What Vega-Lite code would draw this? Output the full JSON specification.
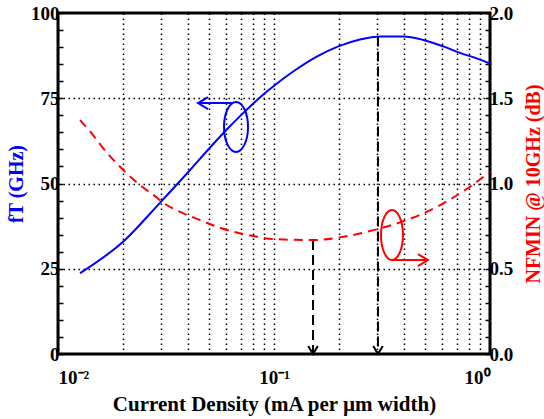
{
  "$schema": "https://vega.github.io/schema/vega-lite/v6.json",
  "width": 432,
  "height": 341,
  "autosize": {"type": "none"},
  "padding": {"left": 58, "top": 13, "right": 54, "bottom": 65},
  "config": {
    "view": {"stroke": "black", "strokeWidth": 3},
    "font": "Liberation Serif",
    "axis": {"labelFont": "Liberation Serif", "titleFont": "Liberation Serif", "labelFontWeight": "bold", "titleFontWeight": "bold", "labelColor": "black", "domain": false}
  },
  "datasets": {
    "ft": [
      {"j": 0.01265, "v": 23.7}, {"j": 0.02, "v": 32.9}, {"j": 0.03, "v": 44.7}, {"j": 0.04, "v": 53.3},
      {"j": 0.05, "v": 60.2}, {"j": 0.06, "v": 65.6}, {"j": 0.07, "v": 69.9}, {"j": 0.08, "v": 73.4},
      {"j": 0.09, "v": 76.3}, {"j": 0.1011, "v": 78.9}, {"j": 0.1251, "v": 83.2}, {"j": 0.1577, "v": 87.2},
      {"j": 0.1985, "v": 90.2}, {"j": 0.25, "v": 92.2}, {"j": 0.3095, "v": 93.1}, {"j": 0.3969, "v": 93.1},
      {"j": 0.4912, "v": 92.1}, {"j": 0.6078, "v": 90.2}, {"j": 0.7262, "v": 88.3}, {"j": 0.868, "v": 86.7},
      {"j": 1.0, "v": 85.2}
    ],
    "nf": [
      {"j": 0.01265, "v": 1.372}, {"j": 0.01432, "v": 1.294}, {"j": 0.0162, "v": 1.206}, {"j": 0.01836, "v": 1.128},
      {"j": 0.0208, "v": 1.06}, {"j": 0.02397, "v": 0.991}, {"j": 0.02762, "v": 0.933}, {"j": 0.03186, "v": 0.874},
      {"j": 0.03803, "v": 0.825}, {"j": 0.04544, "v": 0.786}, {"j": 0.05428, "v": 0.747}, {"j": 0.06481, "v": 0.717},
      {"j": 0.0802, "v": 0.692}, {"j": 0.09926, "v": 0.674}, {"j": 0.152, "v": 0.668}, {"j": 0.2021, "v": 0.684},
      {"j": 0.2783, "v": 0.721}, {"j": 0.3831, "v": 0.772}, {"j": 0.4912, "v": 0.825}, {"j": 0.6078, "v": 0.884},
      {"j": 0.808, "v": 0.981}, {"j": 1.0, "v": 1.069}
    ],
    "drops": [
      {"j": 0.1516, "v": 33.4, "v2": 0},
      {"j": 0.303, "v": 93.1, "v2": 0}
    ],
    "blueEllipse": [{"j": 0.0667, "v": 66.6}],
    "blueArrow": [{"j": 0.0646, "j2": 0.0445, "v": 73.6}],
    "redEllipse": [{"j": 0.3517, "v": 0.698}],
    "redArrow": [{"j": 0.352, "j2": 0.516, "v": 0.551}]
  },
  "encoding": {
    "x": {
      "field": "j", "type": "quantitative",
      "scale": {"type": "log", "domain": [0.01, 1], "nice": false},
      "axis": {
        "values": [0.01, 0.02, 0.03, 0.04, 0.05, 0.06, 0.07, 0.08, 0.09, 0.1, 0.2, 0.3, 0.4, 0.5, 0.6, 0.7, 0.8, 0.9, 1],
        "labelExpr": "datum.value == 0.01 ? '10⁻²' : (datum.value == 0.1 ? '10⁻¹' : (datum.value == 1 ? '10⁰' : ''))",
        "labelFontSize": 19, "labelPadding": 14, "ticks": false,
        "grid": true, "gridColor": "black", "gridDash": [1.5, 3.5], "gridWidth": 1.5, "gridOpacity": 1,
        "title": "Current Density (mA per µm width)", "titleFontSize": 21, "titleColor": "black", "titlePadding": 6
      }
    }
  },
  "resolve": {"scale": {"y": "independent"}, "axis": {"y": "independent"}},
  "layer": [
    {
      "encoding": {
        "y": {
          "field": "v", "type": "quantitative",
          "scale": {"domain": [0, 100], "nice": false},
          "axis": {
            "orient": "left",
            "values": [0, 5, 10, 15, 20, 25, 30, 35, 40, 45, 50, 55, 60, 65, 70, 75, 80, 85, 90, 95, 100],
            "labelExpr": "datum.value % 25 == 0 ? datum.label : ''",
            "labelFontSize": 19, "labelPadding": 4,
            "tickSize": -5, "tickColor": "black", "tickWidth": 1.5,
            "grid": true, "gridColor": "black", "gridDash": [1.5, 3.5], "gridWidth": 1.5,
            "gridOpacity": {"condition": {"test": "datum.value % 25 == 0 && datum.value > 0 && datum.value < 100", "value": 1}, "value": 0},
            "title": "fT (GHz)", "titleColor": "#0000ff", "titleFontSize": 20, "titlePadding": 4
          }
        }
      },
      "layer": [
        {"data": {"name": "ft"}, "mark": {"type": "line", "color": "#0000ff", "strokeWidth": 2, "interpolate": "monotone"}},
        {"data": {"name": "drops"}, "mark": {"type": "rule", "color": "black", "strokeWidth": 2, "strokeDash": [10, 5]}, "encoding": {"y2": {"field": "v2"}}},
        {"data": {"name": "drops"}, "mark": {"type": "point", "shape": "M-0.6,-1L0,0L0.6,-1", "filled": false, "color": "black", "strokeWidth": 2, "size": 256, "opacity": 1}, "encoding": {"y": {"field": "v2", "type": "quantitative"}}},
        {"data": {"name": "blueEllipse"}, "mark": {"type": "point", "shape": "M0,-1C0.265,-1 0.48,-0.552 0.48,0C0.48,0.552 0.265,1 0,1C-0.265,1 -0.48,0.552 -0.48,0C-0.48,-0.552 -0.265,-1 0,-1Z", "filled": false, "color": "#0000ff", "strokeWidth": 2, "size": 2500, "opacity": 1}},
        {"data": {"name": "blueArrow"}, "mark": {"type": "rule", "color": "#0000ff", "strokeWidth": 2}, "encoding": {"x2": {"field": "j2"}}},
        {"data": {"name": "blueArrow"}, "mark": {"type": "point", "shape": "M1,-0.6L0,0L1,0.6", "filled": false, "color": "#0000ff", "strokeWidth": 2, "size": 400, "opacity": 1}, "encoding": {"x": {"field": "j2", "type": "quantitative"}}}
      ]
    },
    {
      "encoding": {
        "y": {
          "field": "v", "type": "quantitative",
          "scale": {"domain": [0, 2], "nice": false},
          "axis": {
            "orient": "right",
            "values": [0, 0.1, 0.2, 0.3, 0.4, 0.5, 0.6, 0.7, 0.8, 0.9, 1.0, 1.1, 1.2, 1.3, 1.4, 1.5, 1.6, 1.7, 1.8, 1.9, 2.0],
            "labelExpr": "round(datum.value * 10) % 5 == 0 ? format(datum.value, '.1f') : ''",
            "labelFontSize": 19, "labelPadding": 4,
            "tickSize": -5, "tickColor": "black", "tickWidth": 1.5,
            "grid": false,
            "title": "NFMIN @ 10GHz (dB)", "titleColor": "#ff0000", "titleFontSize": 20, "titleAngle": 270, "titlePadding": 31
          }
        }
      },
      "layer": [
        {"data": {"name": "nf"}, "mark": {"type": "line", "color": "#ff0000", "strokeWidth": 2, "strokeDash": [9, 6], "interpolate": "monotone"}},
        {"data": {"name": "redEllipse"}, "mark": {"type": "point", "shape": "M0,-1C0.243,-1 0.44,-0.552 0.44,0C0.44,0.552 0.243,1 0,1C-0.243,1 -0.44,0.552 -0.44,0C-0.44,-0.552 -0.243,-1 0,-1Z", "filled": false, "color": "#ff0000", "strokeWidth": 2, "size": 2500, "opacity": 1}},
        {"data": {"name": "redArrow"}, "mark": {"type": "rule", "color": "#ff0000", "strokeWidth": 2}, "encoding": {"x2": {"field": "j2"}}},
        {"data": {"name": "redArrow"}, "mark": {"type": "point", "shape": "M-1,-0.6L0,0L-1,0.6", "filled": false, "color": "#ff0000", "strokeWidth": 2, "size": 400, "opacity": 1}, "encoding": {"x": {"field": "j2", "type": "quantitative"}}}
      ]
    }
  ]
}
